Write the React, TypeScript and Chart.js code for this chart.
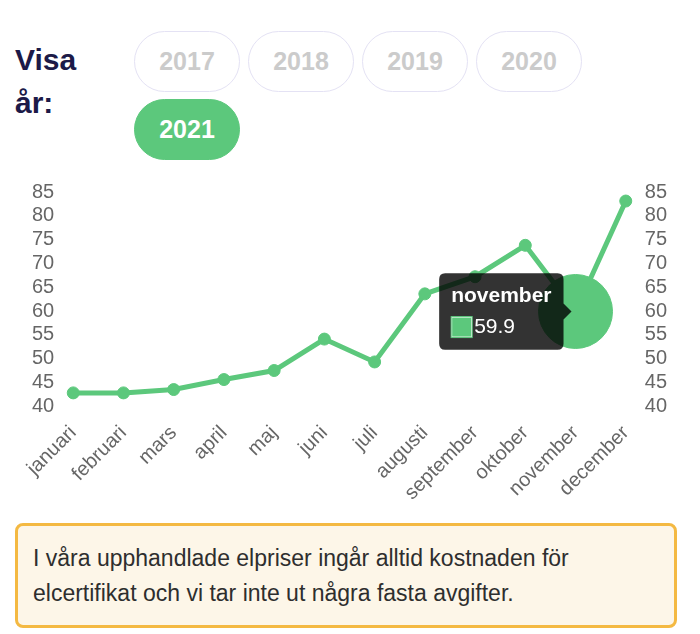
import React, { useEffect, useRef } from "react";
import { Chart, registerables } from "chart.js";

Chart.register(...registerables);

const months = [
  "januari",
  "februari",
  "mars",
  "april",
  "maj",
  "juni",
  "juli",
  "augusti",
  "september",
  "oktober",
  "november",
  "december",
];
const prices2021 = [42.8, 42.8, 43.5, 45.6, 47.5, 54.1, 49.3, 63.6, 67.2, 73.8, 59.9, 83.1];
const years = ["2017", "2018", "2019", "2020", "2021"];
const activeYear = "2021";
const activeMonthIndex = 10;
const yMin = 40;
const yMax = 85;
const yStep = 5;

const GREEN = "#5cc87c";
const FONT = "'Liberation Sans', Arial, Helvetica, sans-serif";

function PriceChart() {
  const ref = useRef<HTMLCanvasElement | null>(null);
  useEffect(() => {
    if (!ref.current) return;
    Chart.defaults.font.family = FONT;
    const axisCommon = {
      min: yMin,
      max: yMax,
      grid: { display: false, drawTicks: false },
      border: { display: false },
      ticks: {
        stepSize: yStep,
        autoSkip: false,
        color: "#666",
        font: { size: 20, lineHeight: 1 },
        padding: 19,
      },
    };
    const chart = new Chart(ref.current, {
      type: "line",
      data: {
        labels: months,
        datasets: [
          {
            data: prices2021,
            borderColor: GREEN,
            backgroundColor: GREEN,
            borderWidth: 5,
            pointRadius: 6,
            pointBorderWidth: 1,
            pointBackgroundColor: GREEN,
            pointBorderColor: GREEN,
            pointHoverRadius: 37,
            pointHoverBorderWidth: 1,
            pointHoverBackgroundColor: GREEN,
            pointHoverBorderColor: GREEN,
            tension: 0,
            fill: false,
            yAxisID: "y",
          },
        ],
      },
      options: {
        animation: false,
        responsive: false,
        locale: "en-US",
        events: [],
        layout: { autoPadding: false, padding: { left: 5, right: 6, top: 8, bottom: 6 } },
        plugins: {
          legend: { display: false },
          tooltip: {
            enabled: true,
            backgroundColor: "rgba(0,0,0,0.8)",
            titleFont: { size: 21, weight: "bold" },
            bodyFont: { size: 21 },
            padding: { x: 12, y: 10 },
            caretSize: 8,
            caretPadding: 4,
            cornerRadius: 6,
            displayColors: true,
          },
        },
        scales: {
          x: {
            grid: { display: false, drawTicks: false },
            border: { display: false },
            ticks: {
              color: "#666",
              font: { size: 20 },
              maxRotation: 45,
              minRotation: 45,
              padding: 15,
              autoSkip: false,
            },
          },
          y: { ...axisCommon, position: "left" },
          y1: { ...axisCommon, position: "right" },
        },
      },
    } as any);
    const active = [{ datasetIndex: 0, index: activeMonthIndex }];
    chart.setActiveElements(active);
    chart.tooltip?.setActiveElements(active, { x: 0, y: 0 });
    chart.update();
    return () => chart.destroy();
  }, []);
  return <canvas ref={ref} width={684} height={363} style={{ display: "block", marginTop: 3 }} />;
}

export default function App() {
  return (
    <div style={{ fontFamily: FONT, paddingTop: 23 }}>
      <div style={{ display: "flex", paddingLeft: 7 }}>
        <div
          style={{
            width: 119,
            paddingTop: 7,
            fontSize: 30,
            lineHeight: "43px",
            fontWeight: 700,
            color: "#1c1a48",
          }}
        >
          Visa
          <br />
          år:
        </div>
        <div style={{ display: "flex", flexWrap: "wrap", width: 480, rowGap: 7, columnGap: 8 }}>
          {years.map((y) => {
            const on = y === activeYear;
            return (
              <div
                key={y}
                style={{
                  boxSizing: "border-box",
                  width: 106,
                  height: 61,
                  borderRadius: 31,
                  border: on ? `1.5px solid ${GREEN}` : "1.5px solid #e4e2f4",
                  background: on ? GREEN : "#fff",
                  color: on ? "#fff" : "#cbcbcb",
                  display: "flex",
                  alignItems: "center",
                  justifyContent: "center",
                  fontWeight: 700,
                  fontSize: 25,
                }}
              >
                {y}
              </div>
            );
          })}
        </div>
      </div>
      <PriceChart />
      <div
        style={{
          boxSizing: "border-box",
          marginTop: -3,
          marginLeft: 7,
          width: 662,
          border: "3px solid #f4b942",
          borderRadius: 8,
          background: "#fdf6e8",
          padding: "15px 15px 14px 15px",
          fontSize: 23,
          lineHeight: "35px",
          color: "#2e2e2e",
          position: "relative",
        }}
      >
        I våra upphandlade elpriser ingår alltid kostnaden för elcertifikat och vi tar inte ut några fasta avgifter.
      </div>
    </div>
  );
}
